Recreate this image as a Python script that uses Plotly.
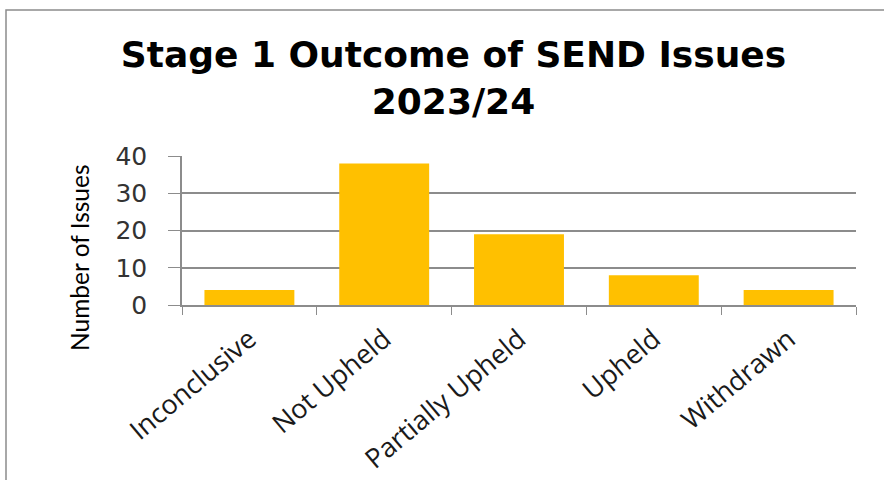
import plotly.graph_objects as go

categories = ["Inconclusive", "Not Upheld", "Partially Upheld", "Upheld", "Withdrawn"]
values = [4, 38, 19, 8, 4]
y_ticks = [0, 10, 20, 30, 40]

W, H = 884, 480
L, R, T, B = 182, 28, 156, 175
pw, ph = W - L - R, H - T - B

fig = go.Figure(go.Bar(x=categories, y=values, marker_color="#FFC000",
                       marker_line_width=0, width=0.667))

def px2paper_x(px):
    return (px - L) / pw

def px2paper_y(py):
    return (H - B - py) / ph

fig.add_shape(type="rect", xref="paper", yref="paper",
              x0=px2paper_x(6), x1=px2paper_x(W + 20),
              y0=px2paper_y(H + 20), y1=px2paper_y(10),
              line=dict(color="#8c8c8c", width=1.5), fillcolor="rgba(0,0,0,0)", layer="below")

fig.add_annotation(text="Number of Issues", textangle=-90, showarrow=False,
                   xref="paper", yref="paper",
                   x=px2paper_x(79), y=px2paper_y(258), xanchor="center", yanchor="middle",
                   font=dict(family="Lato", size=24.5, color="black"))

fig.update_layout(
    width=W, height=H,
    margin=dict(l=L, r=R, t=T, b=B, autoexpand=False),
    paper_bgcolor="white", plot_bgcolor="white",
    showlegend=False,
    bargap=0.333,
    title=dict(text="<b>Stage 1 Outcome of SEND Issues<br>2023/24</b>",
               x=0.513, xanchor="center", y=0.861, yanchor="middle",
               font=dict(family="DejaVu Sans", size=36, color="black")),
    xaxis=dict(tickangle=-40, tickson="boundaries", ticks="outside", ticklen=8,
               tickcolor="#8c8c8c", showline=True, linecolor="#8c8c8c", linewidth=1.5,
               ticklabelstandoff=6,
               showgrid=False, tickfont=dict(family="Open Sans", size=27, color="#1a1a1a")),
    yaxis=dict(range=[0, 40], tickvals=y_ticks, ticks="outside", ticklen=12,
               tickcolor="#8c8c8c", showline=True, linecolor="#8c8c8c", linewidth=1.5,
               showgrid=True, gridcolor="#8c8c8c", gridwidth=1.5, zeroline=False,
               ticklabelstandoff=16,
               tickfont=dict(family="DejaVu Sans", size=25, color="#333333")),
)

fig.write_html("out.html")
